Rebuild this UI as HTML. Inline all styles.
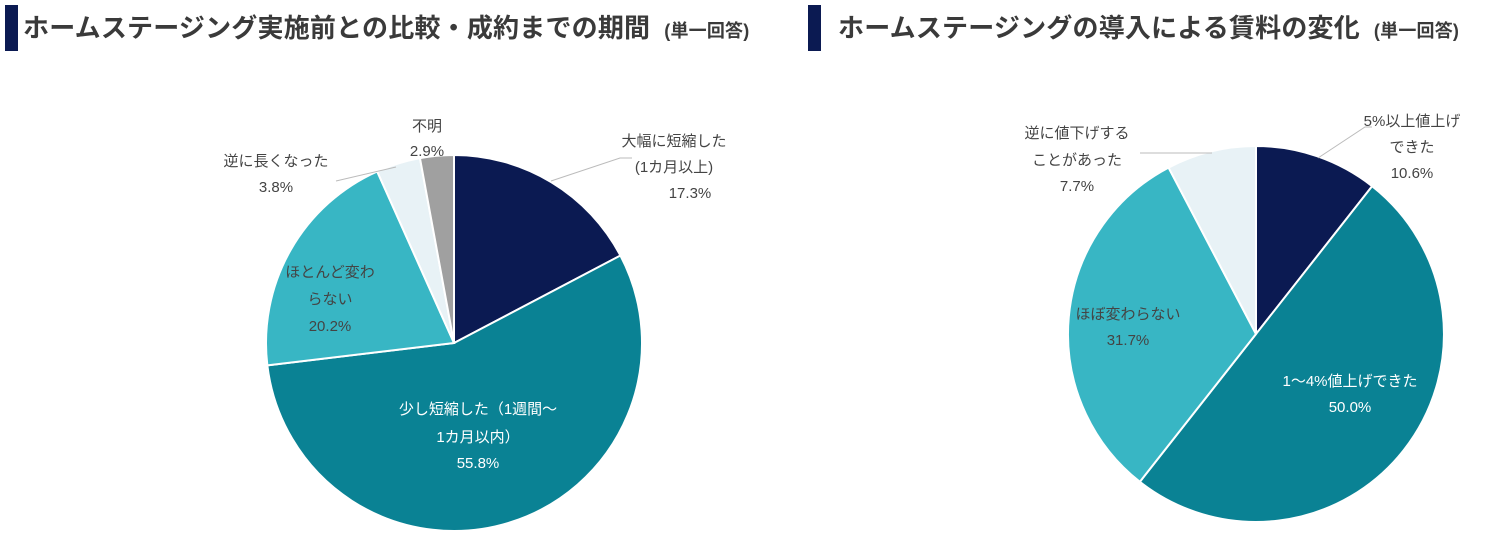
<!DOCTYPE html>
<html><head><meta charset="utf-8"><style>
body{margin:0;width:1504px;height:538px;background:#fff;overflow:hidden;font-family:"Liberation Sans","Noto Sans CJK JP",sans-serif;}
.t{position:absolute;top:8px;font-weight:bold;font-size:26px;color:#3a3a3a;line-height:40px;white-space:nowrap;letter-spacing:0.2px}
.t small{font-size:18px;margin-left:14px}
.bar{position:absolute;top:5px;width:13px;height:46px;background:#0b1a52}
svg{position:absolute;left:0;top:0}
text{font-family:"Liberation Sans","Noto Sans CJK JP",sans-serif;font-size:15px;fill:#444;text-anchor:middle}
</style></head><body>
<div class="bar" style="left:5px"></div>
<div class="t" style="left:23px">ホームステージング実施前との比較・成約までの期間<small>(単一回答)</small></div>
<div class="bar" style="left:808px"></div>
<div class="t" style="left:838px">ホームステージングの導入による賃料の変化<small>(単一回答)</small></div>
<svg width="1504" height="538" id="s">
<g id="p"></g>
<g stroke="#bbb" stroke-width="1" fill="none">
<polyline points="551,181 620,158 632,158"/>
<polyline points="336,181 396,167"/>
<polyline points="1318,158 1365,127 1372,127"/>
<polyline points="1140,153 1212,153"/>
</g>
<text x="674" y="146">大幅に短縮した</text><text x="674" y="172">(1カ月以上)</text><text x="690" y="198">17.3%</text>
<text x="427" y="131">不明</text><text x="427" y="156">2.9%</text>
<text x="276" y="166">逆に長くなった</text><text x="276" y="192">3.8%</text>
<text x="330" y="277">ほとんど変わ</text><text x="330" y="304">らない</text><text x="330" y="331">20.2%</text>
<text x="478" y="414" style="fill:#fff">少し短縮した（1週間～</text><text x="478" y="442" style="fill:#fff">1カ月以内）</text><text x="478" y="468" style="fill:#fff">55.8%</text>
<text x="1412" y="126">5%以上値上げ</text><text x="1412" y="152">できた</text><text x="1412" y="178">10.6%</text>
<text x="1077" y="138">逆に値下げする</text><text x="1077" y="165">ことがあった</text><text x="1077" y="191">7.7%</text>
<text x="1128" y="319">ほぼ変わらない</text><text x="1128" y="345">31.7%</text>
<text x="1350" y="386" style="fill:#fff">1～4%値上げできた</text><text x="1350" y="412" style="fill:#fff">50.0%</text>
</svg>
<script>
function pie(cx,cy,r,vals,cols){var g=document.getElementById('p'),a=0,tot=vals.reduce((x,y)=>x+y,0),s='';
vals.forEach(function(v,i){var a0=a/tot*2*Math.PI;a+=v;var a1=a/tot*2*Math.PI;
var x0=cx+r*Math.sin(a0),y0=cy-r*Math.cos(a0),x1=cx+r*Math.sin(a1),y1=cy-r*Math.cos(a1);
s+='<path d="M'+cx+','+cy+'L'+x0+','+y0+'A'+r+','+r+' 0 '+((a1-a0)>Math.PI?1:0)+' 1 '+x1+','+y1+'Z" fill="'+cols[i]+'" stroke="#fff" stroke-width="2"/>';});
g.innerHTML+=s;}
pie(454,343,188,[17.3,55.8,20.2,3.8,2.9],['#0b1a52','#0a8294','#38b6c4','#e8f2f6','#a0a0a0']);
pie(1256,334,188,[10.6,50.0,31.7,7.7],['#0b1a52','#0a8294','#38b6c4','#e8f2f6']);
</script>
</body></html>
